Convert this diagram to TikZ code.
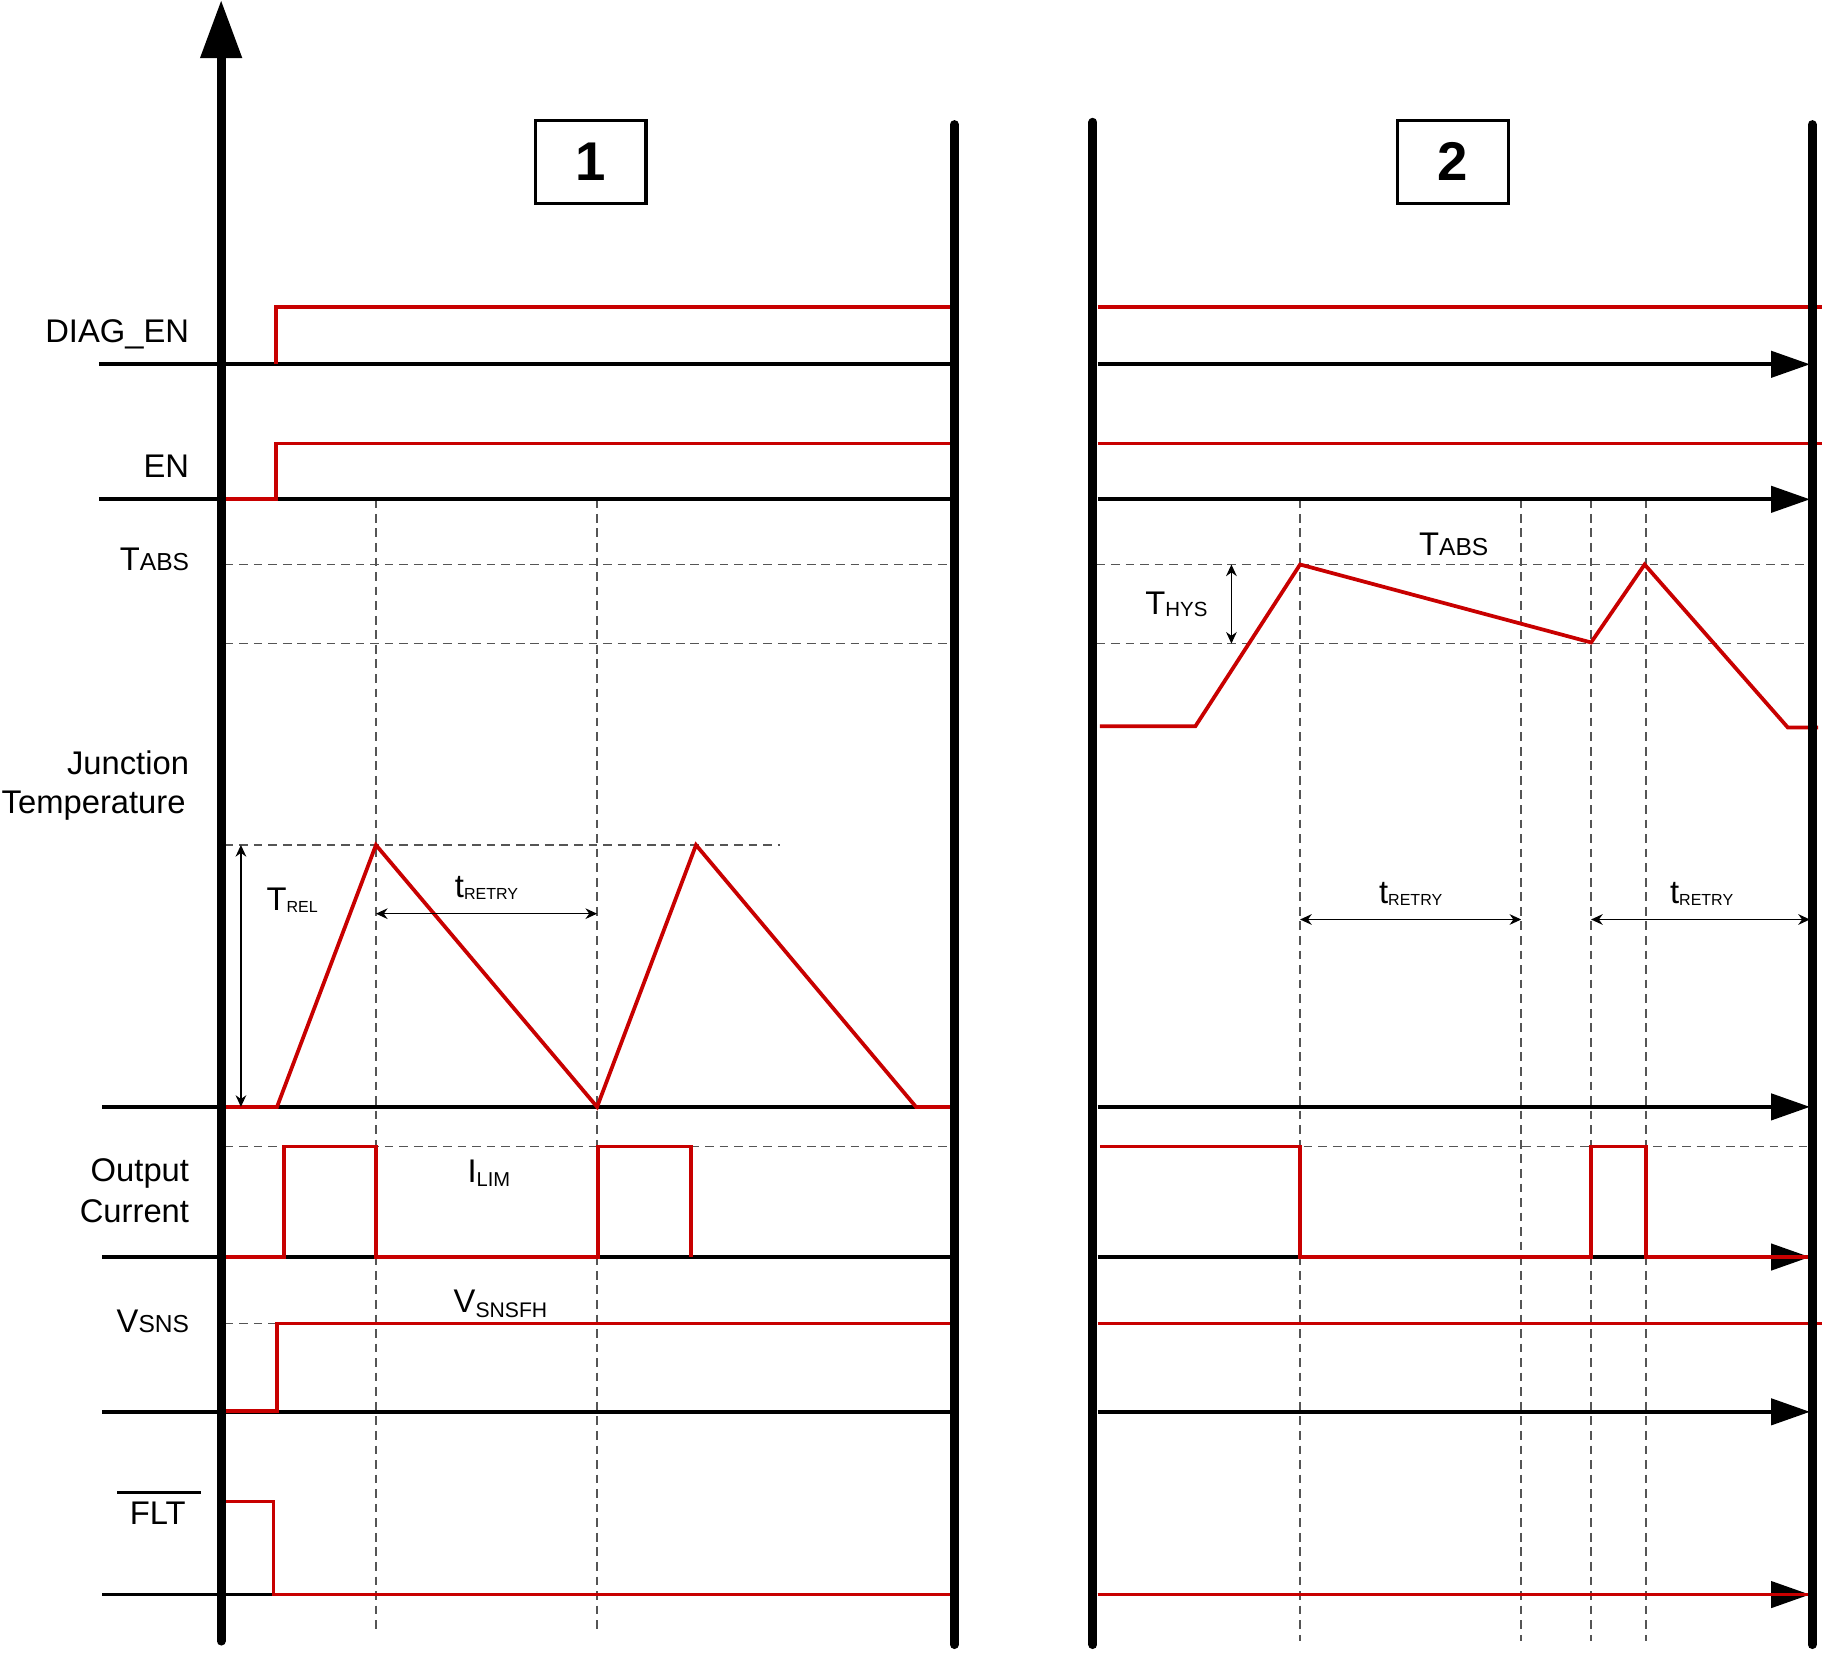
\documentclass[tikz,border=0pt]{standalone}
\usepackage{fontspec}
\setmainfont{Liberation Sans}
\usetikzlibrary{arrows.meta, positioning}

\definecolor{sigred}{RGB}{200,0,0}
\definecolor{guidegray}{RGB}{85,85,85}

\newcommand{\lbl}{\fontsize{9.6}{11.5}\selectfont}
\newcommand{\sml}[1]{{\fontsize{7.2}{8}\selectfont #1}}
\newcommand{\sub}[3]{\raisebox{#1}{\fontsize{#2}{#2}\selectfont #3}}

\begin{document}
\begin{tikzpicture}[
  x=0.012cm, y=-0.012cm,
  axis/.style={line width=2.6pt, line cap=round},
  base/.style={line width=1.1pt},
  timeax/.style={line width=1.1pt, -{Triangle[length=0.4cm, width=0.27cm]}},
  sig/.style={sigred, line width=1.1pt},
  guide/.style={guidegray, line width=0.45pt, dash pattern=on 0.09cm off 0.06cm},
  dim/.style={line width=0.4pt, {Stealth[length=0.12cm, width=0.11cm]}-{Stealth[length=0.12cm, width=0.11cm]}},
  lab/.style={font=\lbl, inner sep=0pt},
  phase/.style={draw, line width=0.9pt, minimum width=1.14cm, minimum height=0.86cm, font=\fontsize{16}{18}\selectfont\bfseries}
]
  \useasboundingbox (0,0) rectangle (1568,1421);

  % phase boxes
  \node[phase] (ph1) at (507.5,139) {1};
  \node[phase] (ph2) at (1248.5,139) {2};

  % signal names
  \node[lab, anchor=base east] (diag) at (163,294) {DIAG\_EN};
  \node[lab, anchor=base east] (en) at (163,410) {EN};
  \node[lab, anchor=base east] (tabs1) at (163,490) {T\sml{ABS}};
  \node[lab, anchor=base east] (tj1) at (163,665) {Junction};
  \node[lab, anchor=base east] (tj2) at (160,699) {Temperature};
  \node[lab, anchor=base east] (iout1) at (163,1015) {Output};
  \node[lab, anchor=base east] (iout2) at (163,1050) {Current};
  \node[lab, anchor=base east] (vsns) at (163,1145) {V\sml{SNS}};
  \node[lab, anchor=base east] (flt) at (160,1310) {FLT};
  \draw[line width=0.8pt] ([xshift=-0.12cm, yshift=0.09cm]flt.north west) -- ([xshift=0.15cm, yshift=0.09cm]flt.north east);

  % guide lines
  \draw[guide] (193,485) -- (818,485);
  \draw[guide] (193,553) -- (818,553);
  \draw[guide] (942,485) -- (1555,485);
  \draw[guide] (942,553) -- (1555,553);
  \draw[guide] (193,726) -- (670,726);
  \draw[guide] (193,985) -- (818,985);
  \draw[guide] (945,985) -- (1555,985);
  \draw[guide] (193,1137) -- (238,1137);
  \foreach \x in {323,513}
    \draw[guide] (\x,429) -- (\x,1400);
  \foreach \x in {1117,1307,1367,1414}
    \draw[guide] (\x,429) -- (\x,1410);

  % time axes
  \foreach \y in {313,429}
    \draw[base] (85,\y) -- (820,\y);
  \foreach \y in {951,1080,1213,1370}
    \draw[base] (88,\y) -- (820,\y);
  \foreach \y in {313,429,951,1080,1213,1370}
    \draw[timeax] (943,\y) -- (1555,\y);

  % waveforms, phase 1
  \draw[sig] (237,313) -- (237,264) -- (818,264);
  \draw[sig] (193,429) -- (237,429) -- (237,381) -- (818,381);
  \draw[sig] (193,951) -- (238,951) -- (323,726) -- (513,951) -- (598,726) -- (787,951) -- (818,951);
  \draw[sig] (193,1080) -- (244,1080) -- (244,985) -- (323,985) -- (323,1080) -- (514,1080) -- (514,985) -- (594,985) -- (594,1080);
  \draw[sig] (193,1212) -- (238,1212) -- (238,1137) -- (818,1137);
  \draw[sig] (193,1290) -- (235,1290) -- (235,1370) -- (818,1370);

  % waveforms, phase 2
  \draw[sig] (943,264) -- (1565,264);
  \draw[sig] (943,381) -- (1565,381);
  \draw[sig] (945,624) -- (1027,624) -- (1117,485) -- (1367,552) -- (1413,485) -- (1536,625) -- (1562,625);
  \draw[sig] (945,985) -- (1117,985) -- (1117,1080) -- (1367,1080) -- (1367,985) -- (1414,985) -- (1414,1080) -- (1553,1080);
  \draw[sig] (943,1137) -- (1565,1137);
  \draw[sig] (943,1370) -- (1553,1370);

  % dimensions
  \draw[dim] (207,726) -- (207,951);
  \draw[dim] (323,785) -- (513,785);
  \draw[dim] (1058,485) -- (1058,553);
  \draw[dim] (1117,790) -- (1307,790);
  \draw[dim] (1367,790) -- (1555,790);

  \node[lab, anchor=base] (trel) at (251,782) {T\sub{-0.7pt}{4.7}{REL}};
  \node[lab, anchor=base] (tret1) at (418,771) {t\sub{-0.7pt}{4.7}{RETRY}};
  \node[lab, anchor=base] (ilim) at (420,1016) {I\sub{-1.3pt}{5.9}{LIM}};
  \node[lab, anchor=base] (vfh) at (430,1128) {V\sub{-1.4pt}{6.2}{SNSFH}};
  \node[lab, anchor=base] (tabs2) at (1249,477) {T\sml{ABS}};
  \node[lab, anchor=base east] (thys) at (1038,528) {T\sub{-0.6pt}{6}{HYS}};
  \node[lab, anchor=base] (tret2) at (1212,776) {t\sub{-0.7pt}{4.7}{RETRY}};
  \node[lab, anchor=base] (tret3) at (1462,776) {t\sub{-0.7pt}{4.7}{RETRY}};

  % frame lines
  \draw[axis, -{Triangle[length=0.6cm, width=0.41cm]}] (190,1410) -- (190,0);
  \draw[axis] (820,107) -- (820,1413);
  \draw[axis] (939,105) -- (939,1413);
  \draw[axis] (1557,107) -- (1557,1413);
\end{tikzpicture}
\end{document}
